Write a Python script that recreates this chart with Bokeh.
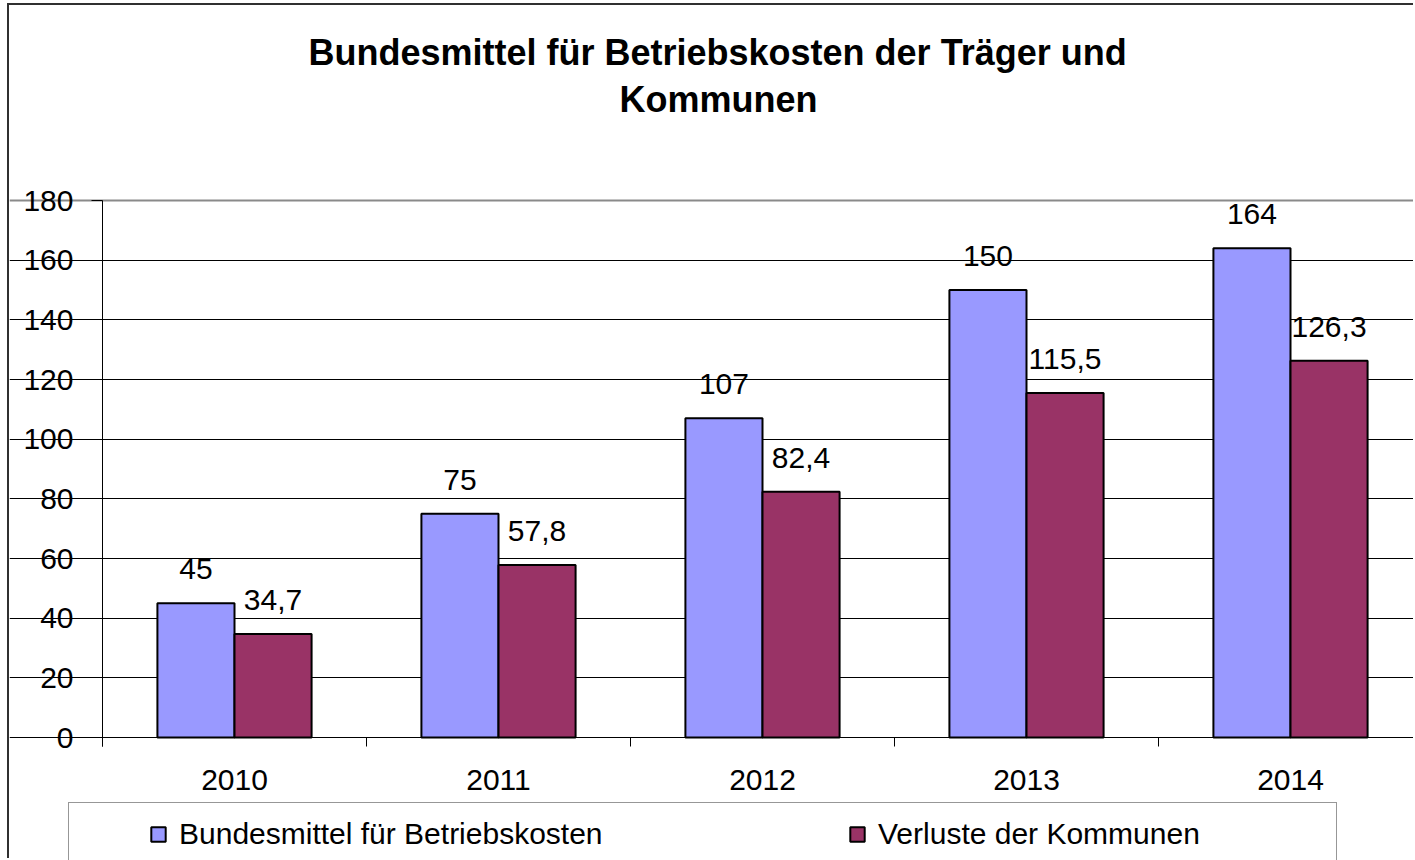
from bokeh.plotting import figure
from bokeh.models import (Range1d, FixedTicker, Legend, LegendItem, LabelSet,
                          ColumnDataSource, Grid, Title)
from bokeh.core.properties import value
from bokeh.embed import file_html
from bokeh.resources import INLINE

# ---- data ----
years = ["2010", "2011", "2012", "2013", "2014"]
bundesmittel = [45, 75, 107, 150, 164]
verluste = [34.7, 57.8, 82.4, 115.5, 126.3]
y_ticks = [0, 20, 40, 60, 80, 100, 120, 140, 160, 180]
series_names = ["Bundesmittel für Betriebskosten", "Verluste der Kommunen"]
title_lines = ["Bundesmittel für Betriebskosten der Träger und", "Kommunen"]

FONT = "Liberation Sans"
W, H = 1406, 855
TOP_AXIS = 195            # canvas y of the 180 line
HEADROOM = 30             # frame space above the 180 line (keeps its tick label whole)
TOP = TOP_AXIS - HEADROOM
AXIS_X_PX = 93            # position of the value axis inside the frame
CAT_PX = 264              # pixels per category
PLOT_PX = 537             # pixels from 0 to 180
BW = 0.292

x_start = -0.5 - AXIS_X_PX / CAT_PX
x_end = x_start + W / CAT_PX
px_per_unit = PLOT_PX / (y_ticks[-1] - y_ticks[0])
y_max = y_ticks[-1] + HEADROOM / px_per_unit
y_min = y_max - (H - TOP) / px_per_unit

def fmt(v):
    return f"{v:g}".replace(".", ",")

idx = list(range(len(years)))
src = ColumnDataSource(dict(
    xb=[i - BW / 2 for i in idx],
    xv=[i + BW / 2 for i in idx],
    bund=bundesmittel,
    verl=verluste,
    lb=[fmt(v) for v in bundesmittel],
    lv=[fmt(v) for v in verluste],
))

p = figure(width=W, height=H, x_range=Range1d(x_start, x_end),
           y_range=Range1d(y_min, y_max),
           output_backend="svg", toolbar_location=None,
           min_border_left=0, min_border_right=0,
           min_border_top=TOP, min_border_bottom=0)
p.title = None
p.styles = {"margin-left": "7px", "margin-top": "3px",
            "border-left": "2px solid #303030", "border-top": "2px solid #303030"}
p.outline_line_color = None
p.background_fill_color = "white"
p.border_fill_color = "white"

# titles (first added = closest to frame)
spacer = Title(text=" ", text_font_size="1px", standoff=74 - HEADROOM)
t2 = Title(text=title_lines[1], align="left", text_font=FONT, text_color="black",
           text_font_size="36px", text_font_style="bold", standoff=8, offset=517 + AXIS_X_PX)
t1 = Title(text=title_lines[0], align="left", text_font=FONT, text_color="black",
           text_font_size="36px", text_font_style="bold", standoff=0, offset=206 + AXIS_X_PX)
p.add_layout(spacer, "above")
p.add_layout(t2, "above")
p.add_layout(t1, "above")

# grid
p.xgrid.visible = False
p.ygrid.ticker = FixedTicker(ticks=y_ticks[:-1])
p.ygrid.grid_line_color = "black"
p.ygrid.grid_line_width = 1
p.ygrid.bounds = (-0.5, x_end)
p.add_layout(Grid(dimension=1, ticker=FixedTicker(ticks=y_ticks[-1:]),
                  grid_line_color="#8a8a8a", grid_line_width=2, bounds=(-0.5, x_end)))

# bars
r1 = p.vbar(x="xb", top="bund", width=BW, bottom=0, source=src,
            fill_color="#9999FF", line_color="black", line_width=2)
r2 = p.vbar(x="xv", top="verl", width=BW, bottom=0, source=src,
            fill_color="#993366", line_color="black", line_width=2)

# data labels
for xcol, ycol, tcol in (("xb", "bund", "lb"), ("xv", "verl", "lv")):
    p.add_layout(LabelSet(x=xcol, y=ycol, text=tcol, source=src, y_offset=24,
                          text_align="center", text_baseline="alphabetic",
                          text_font=value(FONT), text_font_size=value("30px"),
                          text_color="black"))

# y axis
ya = p.yaxis[0]
ya.fixed_location = -0.5
ya.bounds = (-3, y_ticks[-1])
ya.ticker = FixedTicker(ticks=y_ticks)
ya.major_label_text_font = FONT
ya.major_label_text_font_size = "30px"
ya.major_label_text_color = "black"
ya.major_label_standoff = 18
ya.major_tick_out = 11
ya.major_tick_in = 0
ya.minor_tick_out = 0
ya.minor_tick_in = 0
ya.axis_line_color = "black"
ya.major_tick_line_color = "black"

# x axis
xa = p.xaxis[0]
xa.fixed_location = 0
xa.bounds = (-0.5, x_end)
xa.ticker = FixedTicker(ticks=idx, minor_ticks=[i - 0.5 for i in idx])
xa.major_label_overrides = {i: y for i, y in zip(idx, years)}
xa.major_label_text_font = FONT
xa.major_label_text_font_size = "30px"
xa.major_label_text_color = "black"
xa.major_label_standoff = 23
xa.major_tick_out = 0
xa.major_tick_in = 0
xa.minor_tick_out = 9
xa.minor_tick_in = 0
xa.minor_tick_line_color = "black"
xa.axis_line_color = "black"

# legend (box runs off the page bottom as in the reference)
legend = Legend(items=[LegendItem(label=series_names[0], renderers=[r1]),
                       LegendItem(label=series_names[1], renderers=[r2])],
                orientation="horizontal", location=(59, -6),
                title=" ", title_location="left", title_text_font_size="1px",
                title_standoff=65,
                border_line_color="#303030", border_line_width=1,
                background_fill_color="white", background_fill_alpha=1,
                glyph_width=18, glyph_height=18, label_standoff=12,
                label_width=444, spacing=225, padding=14, margin=0,
                label_text_font=FONT, label_text_font_size="30px",
                label_text_color="black")
p.add_layout(legend, "center")

open("out.html", "w").write(file_html(p, INLINE))
